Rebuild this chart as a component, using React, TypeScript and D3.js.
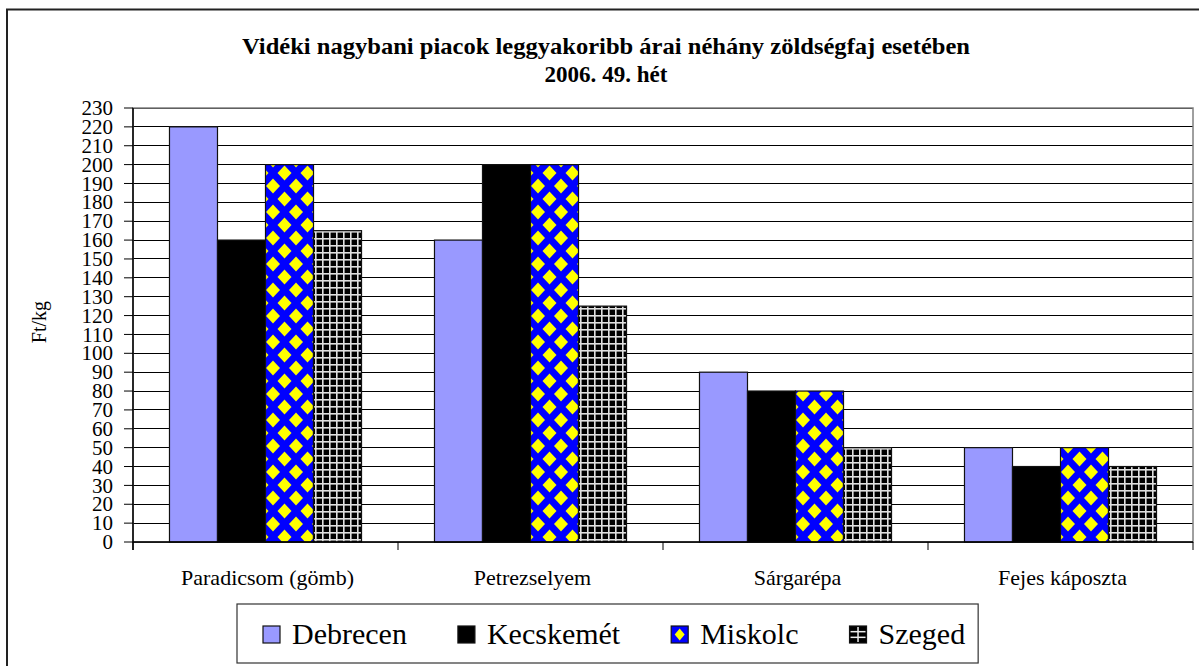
import React from "react";
import * as d3 from "d3";

const W = 1199;
const H = 666;

const categories = ["Paradicsom (gömb)", "Petrezselyem", "Sárgarépa", "Fejes káposzta"];
const seriesNames = ["Debrecen", "Kecskemét", "Miskolc", "Szeged"];
const debrecen = [220, 160, 90, 50];
const kecskemet = [160, 200, 80, 40];
const miskolc = [200, 200, 80, 50];
const szeged = [165, 125, 50, 40];
const yTicks = d3.range(0, 231, 10);

const titleLines = [
  "Vidéki nagybani piacok leggyakoribb árai néhány zöldségfaj esetében",
  "2006. 49. hét",
];

const FONT = "Liberation Serif";
const FILLS = ["#9999ff", "#000000", "url(#pat-miskolc)", "url(#pat-szeged)"];

// plot area
const PL = 133;
const PR = 1193;
const PT = 108;
const PB = 542;

const x0 = d3.scaleBand<string>().domain(categories).range([PL, PR]).padding(0);
const x1 = d3.scaleBand<string>().domain(seriesNames)
  .range([0, x0.bandwidth()]).paddingInner(0).paddingOuter(0.76);
const y = d3.scaleLinear().domain([0, 230]).range([PB, PT]);

const measure = (txt: string, px: number) => {
  const c = document.createElement("canvas").getContext("2d");
  if (!c) return txt.length * px * 0.45;
  c.font = `${px}px "${FONT}"`;
  return c.measureText(txt).width;
};

const PW = 23, PH = 26;
const diamond = (cx: number, cy: number, rx: number, ry: number) =>
  `M${cx},${cy - ry} L${cx + rx},${cy} L${cx},${cy + ry} L${cx - rx},${cy} Z`;

const App = () => {
  const values = [debrecen, kecskemet, miskolc, szeged];

  // legend layout
  const SW = 17;
  const LEG_FS = 30;
  let lx = 263;
  const legItems = seriesNames.map(name => {
    const item = { name, x: lx };
    lx += SW + 12 + measure(name, LEG_FS) + 51;
    return item;
  });
  const legEnd = lx - 51 + 13;

  return (
    <svg width={W} height={H} style={{ position: "absolute", left: 0, top: 0, display: "block" }}>
      <defs>
        <pattern id="pat-miskolc" patternUnits="userSpaceOnUse" x={2} y={4} width={PW} height={PH}>
          <rect width={PW} height={PH} fill="#0000ff" />
          {[[0, 0], [PW, 0], [0, PH], [PW, PH], [PW / 2, PH / 2]].map(([cx, cy], i) => (
            <path key={i} d={diamond(cx, cy, 7, 7.5)} fill="#ffff00" />
          ))}
        </pattern>
        <pattern id="pat-szeged" patternUnits="userSpaceOnUse" width={7} height={7}>
          <rect width={7} height={7} fill="#000" />
          <rect width={1.6} height={7} fill="#e0e0e0" />
          <rect width={7} height={1.6} fill="#e0e0e0" />
        </pattern>
      </defs>

      <rect width={W} height={H} fill="#fff" />
      <rect x={7} y={9.5} width={W + 20} height={H + 20} fill="none" stroke="#222" strokeWidth={2} />

      {/* title */}
      <text x={606} y={54} textAnchor="middle" fontFamily={FONT} fontSize={23} fontWeight="bold"
        textLength={728} lengthAdjust="spacingAndGlyphs">{titleLines[0]}</text>
      <text x={606} y={82} textAnchor="middle" fontFamily={FONT} fontSize={23} fontWeight="bold"
        textLength={123} lengthAdjust="spacingAndGlyphs">{titleLines[1]}</text>

      {/* grid */}
      {yTicks.map(t => (
        <line key={t} x1={PL} x2={PR} y1={y(t)} y2={y(t)} stroke="#000" strokeWidth={1}
          shapeRendering="crispEdges" />
      ))}
      <rect x={PL} y={PT} width={PR - PL} height={PB - PT} fill="none" stroke="#808080" strokeWidth={1.5} />

      {/* bars */}
      {categories.map((c, ci) => (
        <g key={c} transform={`translate(${x0(c)},0)`}>
          {seriesNames.map((s, si) => (
            <rect key={s} x={x1(s)} y={y(values[si][ci])} width={x1.bandwidth()}
              height={y(0) - y(values[si][ci])} fill={FILLS[si]} stroke="#111" strokeWidth={1.2} />
          ))}
        </g>
      ))}

      {/* y axis */}
      <line x1={PL} x2={PL} y1={PT} y2={PB + 8} stroke="#000" strokeWidth={1.5} />
      {yTicks.map(t => (
        <g key={t} transform={`translate(0,${y(t)})`}>
          <line x1={PL - 9} x2={PL} stroke="#000" />
          <text x={PL - 20} dy="0.34em" textAnchor="end" fontFamily={FONT} fontSize={21}>{t}</text>
        </g>
      ))}

      {/* x axis */}
      <line x1={PL} x2={PR} y1={PB} y2={PB} stroke="#000" strokeWidth={1.5} />
      {[...categories.map(c => x0(c) as number), PR].map((d, i) => (
        <line key={i} x1={d} x2={d} y1={PB} y2={PB + 8} stroke="#000" />
      ))}
      {categories.map(c => (
        <text key={c} x={(x0(c) as number) + x0.bandwidth() / 2 + 2} y={585} textAnchor="middle"
          fontFamily={FONT} fontSize={22}>{c}</text>
      ))}

      <text transform="translate(46,322) rotate(-90)" textAnchor="middle" fontFamily={FONT} fontSize={20}>
        Ft/kg
      </text>

      {/* legend */}
      <rect x={237} y={604} width={legEnd - 237} height={59} fill="#fff" stroke="#333" strokeWidth={1.2} />
      {legItems.map((it, i) => {
        const sy = 626;
        const mx = it.x + SW / 2, my = sy + SW / 2;
        return (
          <g key={it.name}>
            {i < 2 && (
              <rect x={it.x} y={sy} width={SW} height={SW} fill={FILLS[i]} stroke="#111" strokeWidth={1.2} />
            )}
            {i === 2 && (
              <>
                <rect x={it.x} y={sy} width={SW} height={SW} fill="#0000ff" stroke="#111" strokeWidth={1.2} />
                <path d={diamond(mx, my, 5, 6)} fill="#ffff00" />
              </>
            )}
            {i === 3 && (
              <>
                <rect x={it.x} y={sy} width={SW} height={SW} fill="#000" stroke="#111" strokeWidth={1.2} />
                <line x1={mx} x2={mx} y1={sy + 1} y2={sy + SW - 1} stroke="#eee" strokeWidth={1.5} />
                {[1 / 3, 2 / 3].map(f => (
                  <line key={f} x1={it.x + 1} x2={it.x + SW - 1} y1={sy + SW * f} y2={sy + SW * f}
                    stroke="#eee" strokeWidth={1.5} />
                ))}
              </>
            )}
            <text x={it.x + SW + 12} y={644} fontFamily={FONT} fontSize={LEG_FS}>{it.name}</text>
          </g>
        );
      })}
    </svg>
  );
};

export default App;
